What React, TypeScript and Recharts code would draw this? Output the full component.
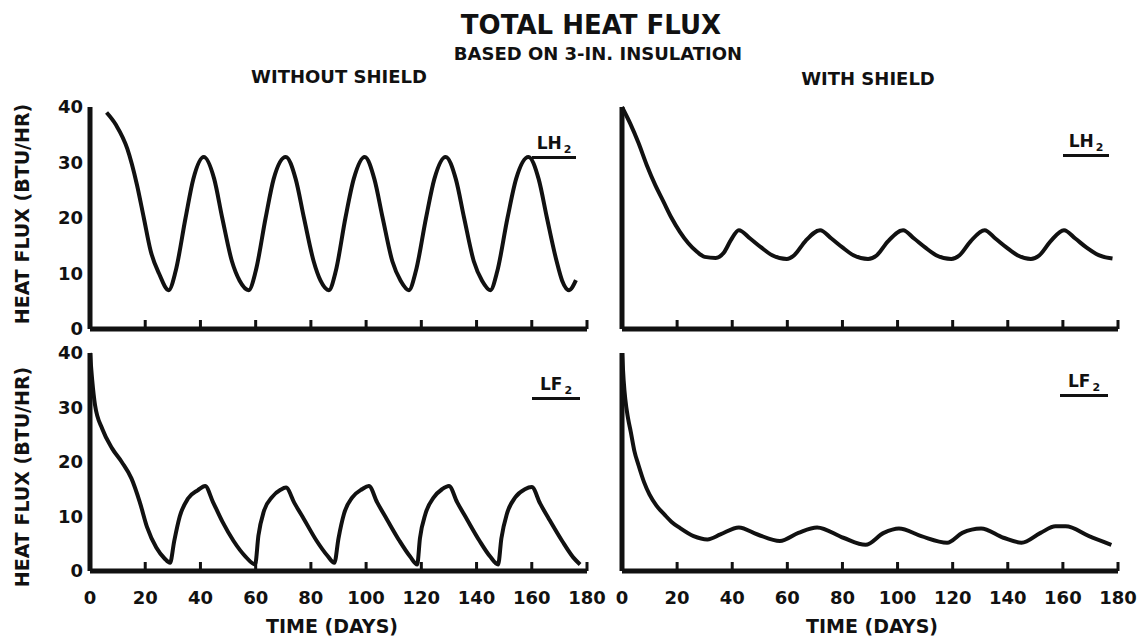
import React from 'react';
import { LineChart, Line, XAxis, YAxis } from 'recharts';

// axis ticks
const dayTicks = [0, 20, 40, 60, 80, 100, 120, 140, 160, 180];
const fluxTicks = [0, 10, 20, 30, 40];

// LH2, without shield (top left)
const lh2NoShieldDays = [
  6, 9.5, 13.5, 17, 19.5, 22, 25, 28.5,
  31, 34.6, 37.4, 41.2, 45, 47.9, 51.4, 54.2, 57.5,
  60, 63.6, 66.5, 70.9, 74.5, 77.5, 81, 83.5, 86.5,
  89, 92.5, 95.5, 99.5, 103, 106, 109.5, 112.5, 115.5,
  118, 121.7, 124.7, 128.8, 132.5, 135.5, 139, 142, 145,
  147.5, 151.2, 154.3, 158.8, 162.5, 165.5, 169, 171, 173.5, 176,
];
const lh2NoShieldFlux = [
  39, 36.7, 32.5, 26, 20, 14, 10, 7,
  10.4, 20, 27, 31, 27, 20, 12.2, 8.7, 7,
  10.4, 20, 27, 31, 27, 20, 12.2, 8.7, 7,
  10.4, 20, 27, 31, 27, 20, 12.2, 8.7, 7,
  10.4, 20, 27, 31, 27, 20, 12.2, 8.7, 7,
  10.4, 20, 27, 31, 27, 20, 12.2, 8.7, 7, 8.8,
];

// LH2, with shield (top right)
const lh2ShieldDays = [
  0, 3, 6, 9, 12, 15, 18, 21, 24, 27, 30, 34, 37, 39.5, 42.4,
  46.5, 50.5, 54.5, 59.8, 62.5, 66.5, 71.9,
  76, 80, 84, 89.3, 92.5, 96.5, 102,
  106, 110, 114, 119.5, 122.5, 126.5, 131.6,
  135.5, 139.5, 143.5, 148.4, 151.5, 155.5, 160.4,
  164.5, 168.5, 173, 178,
];
const lh2ShieldFlux = [
  40, 37, 33.5, 29.5, 26, 23, 20, 17.5, 15.5, 14, 13, 12.8, 13.8, 16, 17.8,
  16.3, 14.7, 13.3, 12.6, 13.3, 15.8, 17.8,
  16.3, 14.7, 13.3, 12.6, 13.3, 15.8, 17.8,
  16.3, 14.7, 13.3, 12.6, 13.3, 15.8, 17.8,
  16.3, 14.7, 13.3, 12.6, 13.3, 15.8, 17.8,
  16.3, 14.7, 13.3, 12.7,
];

// LF2, without shield (bottom left)
const lf2NoShieldDays = [
  0, 0.8, 1.8, 4.5, 8, 11.5, 15, 18, 20.7, 24, 27, 29,
  30.5, 32.5, 35.5, 39, 41.7, 44.5, 48, 52, 56.4, 59.8,
  61, 63, 66, 69, 71, 74, 77.5, 82, 86, 88.5,
  90, 92, 95, 98.5, 101, 104, 107.5, 112, 116, 118.5,
  119.5, 121.5, 124.5, 127.5, 130, 133, 136.5, 141, 145, 147.8,
  149, 151, 154, 157.5, 160, 163, 166.5, 171, 175, 177.5,
];
const lf2NoShieldFlux = [
  40, 35, 30.5, 26, 22.5, 20, 17, 12.7, 8, 4.3, 2.3, 1.5,
  5.5, 10, 13.3, 14.8, 15.6, 12.7, 9, 5.5, 2.6, 1.2,
  6.5, 11, 13.6, 14.9, 15.3, 12.5, 9.5, 5.6, 2.8, 1.5,
  6, 10.5, 13.5, 15, 15.6, 12.6, 9.5, 5.6, 2.6, 1.2,
  6, 10.5, 13.5, 15, 15.6, 12.6, 9.5, 5.6, 2.6, 1.2,
  6, 10.5, 13.5, 15, 15.4, 12.4, 9.3, 5.5, 2.5, 1.2,
];

// LF2, with shield (bottom right)
const lf2ShieldDays = [
  0, 0.6, 1.2, 2.2, 3.2, 4.5, 6, 8, 10, 12.5, 15.5, 18, 21, 26, 31,
  35.7, 42.4, 49.2, 57.3, 64, 70.8, 80.3, 88.4, 95, 100.5,
  108.6, 118, 123.5, 130.3, 138.4, 145, 151.9, 157.3, 161, 169.5, 177.6,
];
const lf2ShieldFlux = [
  40, 35, 31.5, 28, 25.5, 22, 19.4, 16.3, 14, 12, 10.3, 9, 7.9, 6.4, 5.8,
  6.7, 8, 6.7, 5.5, 7, 8, 6.1, 4.8, 7, 7.8,
  6.4, 5.2, 7, 7.8, 6.1, 5.2, 7, 8.2, 8.2, 6.4, 4.8,
];

const toPoints = (days: number[], flux: number[]) =>
  days.map((day, i) => ({ day, flux: flux[i] }));

const INK = '#111';
const FONT = '"DejaVu Sans", Verdana, sans-serif';

// empty tick label so the tick lines still get drawn
const NoLabel = () => <g />;

interface PanelProps {
  left: number;
  top: number;
  width: number;
  height: number;
  points: { day: number; flux: number }[];
  yAxisWidth: number;
  xAxisHeight: number;
  rightGap: number;
  showYLabels: boolean;
  showXLabels: boolean;
}

function Panel({ left, top, width, height, points, yAxisWidth, xAxisHeight, rightGap, showYLabels, showXLabels }: PanelProps) {
  const labelStyle = { fill: INK, fontSize: 18, fontWeight: 700, fontFamily: FONT };
  return (
    <div style={{ position: 'absolute', left, top }}>
      <LineChart width={width} height={height} data={points} margin={{ top: 12, right: rightGap, left: 0, bottom: 0 }}>
        {/* day labels below the axis, no tick marks */}
        <XAxis
          xAxisId="labels"
          dataKey="day"
          type="number"
          domain={[0, 180]}
          ticks={dayTicks}
          interval={0}
          height={xAxisHeight}
          axisLine={false}
          tickLine={false}
          tickMargin={14}
          tick={showXLabels ? labelStyle : false}
        />
        {/* mirrored axis: the thick baseline and the short upward ticks */}
        <XAxis
          xAxisId="marks"
          dataKey="day"
          type="number"
          domain={[0, 180]}
          ticks={dayTicks}
          interval={0}
          height={1}
          mirror
          axisLine={{ stroke: INK, strokeWidth: 5 }}
          tickLine={{ stroke: INK, strokeWidth: 3 }}
          tickSize={9}
          tick={NoLabel}
        />
        <YAxis
          type="number"
          domain={[0, 40]}
          ticks={fluxTicks}
          interval={0}
          width={yAxisWidth}
          axisLine={{ stroke: INK, strokeWidth: 5 }}
          tickLine={false}
          tickSize={0}
          tickMargin={7}
          tick={showYLabels ? labelStyle : false}
        />
        <Line
          xAxisId="marks"
          type="monotone"
          dataKey="flux"
          stroke={INK}
          strokeWidth={4}
          dot={false}
          activeDot={false}
          isAnimationActive={false}
        />
      </LineChart>
    </div>
  );
}

function Label({ x, y, size, text, rotate }: { x: number; y: number; size: number; text: string; rotate?: boolean }) {
  return (
    <div
      style={{
        position: 'absolute',
        left: x,
        top: y,
        transform: `translate(-50%, -50%)${rotate ? ' rotate(-90deg)' : ''}`,
        whiteSpace: 'nowrap',
        fontFamily: FONT,
        fontWeight: 700,
        fontSize: size,
        color: INK,
        lineHeight: 1,
      }}
    >
      {text}
    </div>
  );
}

function SeriesTag({ left, top, width, name }: { left: number; top: number; width: number; name: string }) {
  return (
    <div
      style={{
        position: 'absolute',
        left,
        top,
        width,
        textAlign: 'center',
        borderBottom: `3px solid ${INK}`,
        fontFamily: FONT,
        fontWeight: 700,
        fontSize: 17,
        lineHeight: '20px',
        color: INK,
      }}
    >
      {name}
      <span style={{ fontSize: 11, position: 'relative', top: 4, marginLeft: 2 }}>2</span>
    </div>
  );
}

export default function App() {
  return (
    <div style={{ position: 'absolute', left: 0, top: 0, width: 1138, height: 641, background: '#fff', overflow: 'hidden' }}>
      <Label x={591} y={25} size={26} text="TOTAL HEAT FLUX" />
      <Label x={598} y={54} size={18} text="BASED ON 3-IN. INSULATION" />
      <Label x={339} y={77} size={18} text="WITHOUT SHIELD" />
      <Label x={868} y={79} size={18} text="WITH SHIELD" />
      <Label x={22} y={214} size={19} text="HEAT FLUX (BTU/HR)" rotate />
      <Label x={22} y={477} size={19} text="HEAT FLUX (BTU/HR)" rotate />
      <Label x={332} y={626} size={19} text="TIME (DAYS)" />
      <Label x={872} y={626} size={19} text="TIME (DAYS)" />

      <Panel left={0} top={95} width={620} height={250} points={toPoints(lh2NoShieldDays, lh2NoShieldFlux)}
        yAxisWidth={90} xAxisHeight={16} rightGap={33} showYLabels showXLabels={false} />
      <Panel left={600} top={95} width={538} height={250} points={toPoints(lh2ShieldDays, lh2ShieldFlux)}
        yAxisWidth={22} xAxisHeight={16} rightGap={20} showYLabels={false} showXLabels={false} />
      <Panel left={0} top={341} width={620} height={270} points={toPoints(lf2NoShieldDays, lf2NoShieldFlux)}
        yAxisWidth={90} xAxisHeight={40} rightGap={33} showYLabels showXLabels />
      <Panel left={600} top={341} width={538} height={270} points={toPoints(lf2ShieldDays, lf2ShieldFlux)}
        yAxisWidth={22} xAxisHeight={40} rightGap={20} showYLabels={false} showXLabels />

      <SeriesTag left={532} top={133} width={44} name="LH" />
      <SeriesTag left={1063} top={131} width={46} name="LH" />
      <SeriesTag left={532} top={374} width={48} name="LF" />
      <SeriesTag left={1060} top={371} width={48} name="LF" />
    </div>
  );
}
